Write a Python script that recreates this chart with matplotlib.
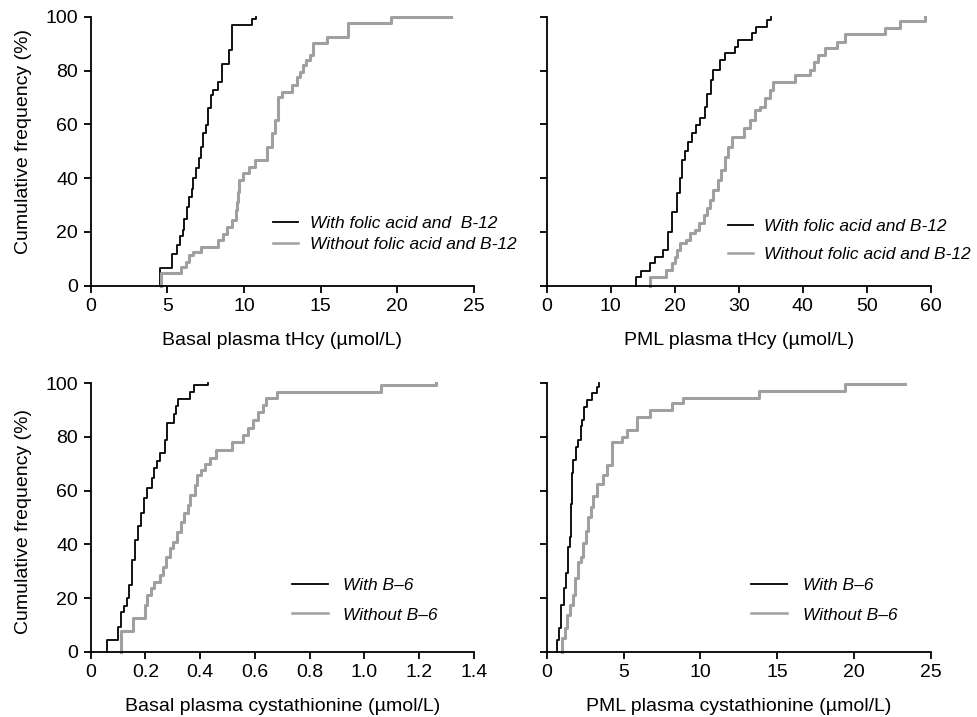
import numpy as np
import matplotlib
matplotlib.use("Agg")
from matplotlib import pyplot as plt
from matplotlib.lines import Line2D

plt.rcParams['font.family'] = ['Liberation Sans', 'DejaVu Sans']

# --- Basal plasma tHcy
basal_hcy_with_x = [4.5, 5.3, 5.6, 5.8, 6.0, 6.1, 6.3, 6.4, 6.6, 6.7, 6.9, 7.06, 7.2, 7.35, 7.5, 7.67,
                    7.83, 8.0, 8.33, 8.54, 9.02, 9.2, 10.5, 10.8]
basal_hcy_with_y = [6.7, 11.7, 15.1, 18.5, 20.7, 24.7, 29.4, 33.1, 36.1, 39.9, 43.6, 47.4, 51.7, 56.7, 59.7, 65.9,
                    70.9, 72.7, 75.8, 82.6, 87.6, 96.9, 99.0, 100]
basal_hcy_without_x = [4.6, 5.9, 6.2, 6.4, 6.7, 7.2, 8.3, 8.6, 8.9, 9.2, 9.45, 9.55, 9.62, 9.7, 9.96, 10.3, 10.7,
                       11.5, 11.8, 12.0, 12.2, 12.45, 13.1, 13.45, 13.65, 13.85, 14.05, 14.3, 14.5, 15.4,
                       16.8, 19.6]
basal_hcy_without_y = [4.6, 7.1, 8.9, 11.4, 12.4, 14.5, 17.0, 19.2, 21.9, 24.4, 28.1, 31.0, 35.0, 39.3, 41.8, 44.2,
                       46.7, 51.7, 56.6, 61.6, 70.3, 72.1, 74.6, 77.7, 79.6, 82.1, 84.0, 85.8, 90.2, 92.6,
                       97.6, 100]
basal_hcy_without_end = 23.5

# --- PML plasma tHcy
pml_hcy_with_x = [14.0, 14.8, 16.1, 16.9, 18.2, 19.0, 19.6, 20.4, 20.8, 21.2, 21.6, 22.0, 22.65, 23.4, 24.0, 24.8,
                  25.0, 25.6, 26.0, 27.1, 27.9, 29.4, 29.95, 32.1, 32.7, 34.4, 35.1]
pml_hcy_with_y = [3.3, 5.6, 8.3, 10.6, 13.1, 20.1, 27.5, 34.3, 39.9, 46.7, 49.9, 53.6, 56.7, 59.7, 62.2, 66.5,
                  71.4, 76.4, 80.1, 83.9, 86.4, 88.8, 91.3, 93.8, 96.3, 98.8, 100]
pml_hcy_without_x = [16.1, 18.7, 19.5, 20.05, 20.4, 20.8, 21.8, 22.4, 23.2, 23.85, 24.5, 25.0, 25.5, 26.0, 26.7,
                     27.3, 27.9, 28.4, 28.9, 30.8, 31.8, 32.6, 33.3, 34.1, 34.9, 35.4, 38.8, 41.1, 41.7, 42.4,
                     43.5, 45.3, 46.6, 52.9, 55.2, 59.1]
pml_hcy_without_y = [3.3, 5.8, 8.3, 10.8, 13.3, 15.8, 17.0, 19.5, 20.8, 23.3, 26.4, 28.9, 32.0, 35.7, 39.4,
                     43.1, 48.0, 51.7, 55.4, 58.5, 61.6, 65.3, 66.5, 69.6, 72.7, 75.8, 78.3, 80.2, 83.3, 85.8,
                     88.3, 90.7, 93.6, 95.7, 98.4, 100]

# --- Basal plasma cystathionine
basal_cys_with_x = [0.058, 0.100, 0.110, 0.122, 0.131, 0.141, 0.152, 0.162, 0.172, 0.183, 0.194, 0.204, 0.224,
                    0.233, 0.243, 0.255, 0.271, 0.279, 0.303, 0.311, 0.320, 0.362, 0.379, 0.430]
basal_cys_with_y = [4.4, 9.3, 14.7, 17.2, 20.0, 24.9, 34.2, 41.6, 47.0, 51.7, 57.2, 61.0, 64.7, 68.3, 71.0, 73.9,
                    78.9, 85.1, 88.7, 91.6, 94.3, 96.8, 99.4, 100]
basal_cys_without_x = [0.112, 0.155, 0.197, 0.207, 0.219, 0.231, 0.253, 0.265, 0.277, 0.290, 0.302, 0.314, 0.330,
                       0.342, 0.354, 0.363, 0.381, 0.387, 0.403, 0.417, 0.436, 0.457, 0.515, 0.557, 0.576,
                       0.594, 0.612, 0.630, 0.639, 0.679, 1.06, 1.26]
basal_cys_without_y = [7.7, 12.4, 17.4, 21.1, 23.6, 26.1, 28.6, 31.7, 35.4, 38.5, 41.0, 44.7, 48.4,
                       51.6, 54.7, 58.4, 62.1, 65.8, 67.7, 69.8, 72.0, 75.1, 78.2, 80.7, 83.2,
                       86.3, 89.4, 91.9, 94.4, 96.9, 99.4, 100]

# --- PML plasma cystathionine
pml_cys_with_x = [0.65, 0.8, 0.93, 1.13, 1.26, 1.41, 1.52, 1.58, 1.63, 1.73, 1.91, 2.06, 2.2, 2.28, 2.43, 2.6,
                  2.93, 3.29, 3.4]
pml_cys_with_y = [4.4, 9.0, 17.4, 23.6, 29.2, 39.1, 42.8, 55.0, 66.5, 71.4, 76.4, 78.9, 84.0, 86.3, 91.3, 93.8,
                  96.5, 98.8, 100]
pml_cys_without_x = [1.0, 1.19, 1.34, 1.52, 1.73, 1.85, 2.06, 2.2, 2.38, 2.55, 2.71, 2.86, 3.0, 3.3, 3.65, 3.91,
                     4.23, 4.88, 5.21, 5.88, 6.73, 8.14, 8.89, 13.8, 19.4]
pml_cys_without_y = [5.0, 8.7, 13.7, 17.4, 21.1, 27.3, 33.5, 35.4, 40.4, 45.0, 50.0, 54.0, 58.0, 62.5, 66.0, 69.6,
                     78.2, 80.1, 82.6, 87.6, 90.0, 92.5, 94.5, 97.1, 99.6]
pml_cys_without_end = 23.3

labels_hcy = ["With folic acid and  B-12", "Without folic acid and B-12"]
labels_hcy2 = ["With folic acid and B-12", "Without folic acid and B-12"]
labels_b6 = ["With B\u20136", "Without B\u20136"]

GRAY = "#a0a0a0"
FS = 14


def draw_cdf(ax, xs, ys, end=None, **kw):
    xs = list(xs)
    ys = list(ys)
    if end is None:
        end = xs[-1]
    x = np.r_[xs[0], xs, end]
    y = np.r_[0, ys, ys[-1]]
    ax.step(x, y, where='post', clip_on=False, **kw)


def style(ax, xmax, xticks, xticklabels, xlabel, ylabel_y=None):
    ax.set_xlim(0, xmax)
    ax.set_ylim(0, 100)
    for s in ['top', 'right']:
        ax.spines[s].set_visible(False)
    for s in ['left', 'bottom']:
        ax.spines[s].set_linewidth(1.3)
    ax.set_xticks(xticks)
    ax.set_xticklabels(xticklabels)
    ax.set_yticks([0, 20, 40, 60, 80, 100])
    if ylabel_y is None:
        ax.set_yticklabels([])
    else:
        ax.set_ylabel("Cumulative frequency (%)", fontsize=FS)
        ax.yaxis.set_label_coords(-0.152, ylabel_y)
    ax.tick_params(direction='out', length=5, width=1.3, labelsize=FS, pad=4)
    ax.set_xlabel(xlabel, fontsize=FS, labelpad=12)


def legend(ax, labels, x, y, hlen, tpad, spacing):
    handles = [Line2D([], [], color='black', lw=1.3),
               Line2D([], [], color=GRAY, lw=1.8)]
    ax.legend(handles, labels, loc='center left', bbox_to_anchor=(x, y), frameon=False,
              borderpad=0, borderaxespad=0, handlelength=hlen, handletextpad=tpad,
              labelspacing=spacing, prop={'style': 'italic', 'size': 12.5})


fig = plt.figure(figsize=(9.77, 7.17), dpi=100)
ax1 = fig.add_axes([0.0928, 0.6015, 0.3923, 0.3752])
ax2 = fig.add_axes([0.5596, 0.6015, 0.3930, 0.3752])
ax3 = fig.add_axes([0.0928, 0.0911, 0.3923, 0.3743])
ax4 = fig.add_axes([0.5596, 0.0911, 0.3930, 0.3743])

draw_cdf(ax1, basal_hcy_with_x, basal_hcy_with_y, color='black', lw=1.3)
draw_cdf(ax1, basal_hcy_without_x, basal_hcy_without_y, basal_hcy_without_end, color=GRAY, lw=2.2)
style(ax1, 25, [0, 5, 10, 15, 20, 25], ['0', '5', '10', '15', '20', '25'],
      "Basal plasma tHcy (\u00b5mol/L)", ylabel_y=0.535)
legend(ax1, labels_hcy, 0.476, 0.192, 1.45, 0.7, 0.32)

draw_cdf(ax2, pml_hcy_with_x, pml_hcy_with_y, color='black', lw=1.3)
draw_cdf(ax2, pml_hcy_without_x, pml_hcy_without_y, color=GRAY, lw=2.2)
style(ax2, 60, [0, 10, 20, 30, 40, 50, 60], ['0', '10', '20', '30', '40', '50', '60'],
      "PML plasma tHcy (\u00b5mol/L)")
legend(ax2, labels_hcy2, 0.472, 0.168, 1.45, 0.6, 0.75)

draw_cdf(ax3, basal_cys_with_x, basal_cys_with_y, color='black', lw=1.3)
draw_cdf(ax3, basal_cys_without_x, basal_cys_without_y, color=GRAY, lw=2.2)
style(ax3, 1.4, [0, 0.2, 0.4, 0.6, 0.8, 1.0, 1.2, 1.4],
      ['0', '0.2', '0.4', '0.6', '0.8', '1.0', '1.2', '1.4'],
      "Basal plasma cystathionine (\u00b5mol/L)", ylabel_y=0.485)
legend(ax3, labels_b6, 0.525, 0.191, 2.1, 0.85, 0.8)

draw_cdf(ax4, pml_cys_with_x, pml_cys_with_y, color='black', lw=1.3)
draw_cdf(ax4, pml_cys_without_x, pml_cys_without_y, pml_cys_without_end, color=GRAY, lw=2.2)
style(ax4, 25, [0, 5, 10, 15, 20, 25], ['0', '5', '10', '15', '20', '25'],
      "PML plasma cystathionine (\u00b5mol/L)")
legend(ax4, labels_b6, 0.532, 0.191, 2.1, 0.9, 0.8)

fig.savefig("out.png", dpi=100)
